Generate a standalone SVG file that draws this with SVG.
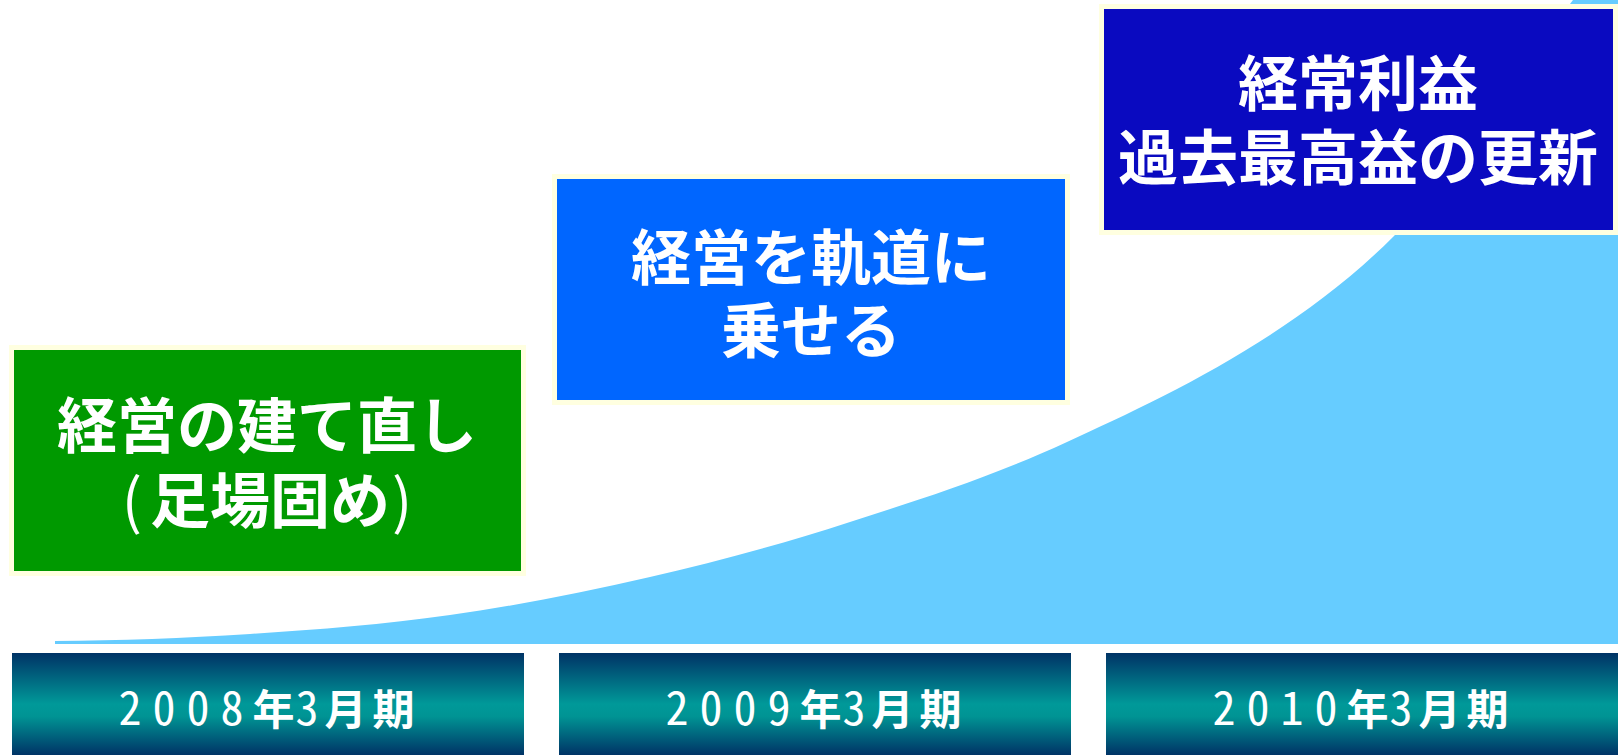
<svg xmlns="http://www.w3.org/2000/svg" width="1618" height="755" viewBox="0 0 1618 755">
<defs>
<linearGradient id="barGrad" x1="0" y1="0" x2="0" y2="1">
<stop offset="0" stop-color="#003366"/>
<stop offset="0.5" stop-color="#009999"/>
<stop offset="0.62" stop-color="#009494"/>
<stop offset="1" stop-color="#003366"/>
</linearGradient>
<style>
.frame{fill:#FFFFE0;}
.lbl{font-family:"Noto Sans CJK JP","Noto Sans CJK SC",sans-serif;font-weight:bold;font-size:60px;fill:#FFFFFF;text-anchor:middle;}
.par{font-weight:normal;}
.bar{fill:url(#barGrad);}
.yr{font-family:"Noto Sans CJK JP","Noto Sans CJK SC",sans-serif;font-weight:bold;font-size:42px;fill:#FFFFFF;text-anchor:middle;}
.dg{font-family:"Noto Sans Mono CJK JP","Noto Sans CJK JP",sans-serif;font-weight:normal;font-size:46px;}
</style>
</defs>
<rect width="1618" height="755" fill="#FFFFFF"/>
<g id="connectors">
<path id="growth-curve" fill="#66CCFF" d="M55,641 C120,640.5 184,638.3 250,634 C316,629.7 383,624.5 450,615 C517,605.5 583,592.5 650,577 C717,561.5 780.5,544.5 850,522 C919.5,499.5 987,478.8 1067,442 C1157,400.6 1290,340 1394,236 C1456,174 1543,39 1573,0 L1618,0 L1618,644 L55,644 Z"/>
</g>
<g id="node-2008">
<rect class="frame" x="9" y="345" width="517" height="231"/>
<rect x="14" y="350" width="507" height="221" fill="#009900"/>
<text class="lbl" x="267" y="448">経営の建て直し</text>
<text class="lbl" x="267" y="523"><tspan class="par">(</tspan><tspan dx="8">足場固め</tspan><tspan class="par" dx="2">)</tspan></text>
</g>
<g id="node-2009">
<rect class="frame" x="552" y="174" width="518" height="231"/>
<rect x="557" y="179" width="508" height="221" fill="#0066FF"/>
<text class="lbl" x="811" y="280">経営を軌道に</text>
<text class="lbl" x="811" y="353">乗せる</text>
</g>
<g id="node-2010">
<rect class="frame" x="1099" y="4" width="519" height="231"/>
<rect x="1104" y="9" width="509" height="221" fill="#0A0AC0"/>
<text class="lbl" x="1358" y="106">経常利益</text>
<text class="lbl" x="1358" y="180">過去最高益の更新</text>
</g>
<g id="bar-2008">
<rect class="bar" x="12" y="653" width="512" height="102"/>
<text class="yr" y="725"><tspan class="dg" x="130">2</tspan><tspan class="dg" x="164">0</tspan><tspan class="dg" x="198">0</tspan><tspan class="dg" x="232">8</tspan><tspan x="273.5">年</tspan><tspan class="dg" x="307">3</tspan><tspan x="345.5">月</tspan><tspan x="393.5">期</tspan></text>
</g>
<g id="bar-2009">
<rect class="bar" x="559" y="653" width="512" height="102"/>
<text class="yr" y="725"><tspan class="dg" x="677">2</tspan><tspan class="dg" x="711">0</tspan><tspan class="dg" x="745">0</tspan><tspan class="dg" x="779">9</tspan><tspan x="820.5">年</tspan><tspan class="dg" x="854">3</tspan><tspan x="892.5">月</tspan><tspan x="940.5">期</tspan></text>
</g>
<g id="bar-2010">
<rect class="bar" x="1106" y="653" width="512" height="102"/>
<text class="yr" y="725"><tspan class="dg" x="1224">2</tspan><tspan class="dg" x="1258">0</tspan><tspan class="dg" x="1292">1</tspan><tspan class="dg" x="1326">0</tspan><tspan x="1367.5">年</tspan><tspan class="dg" x="1401">3</tspan><tspan x="1439.5">月</tspan><tspan x="1487.5">期</tspan></text>
</g>
</svg>
